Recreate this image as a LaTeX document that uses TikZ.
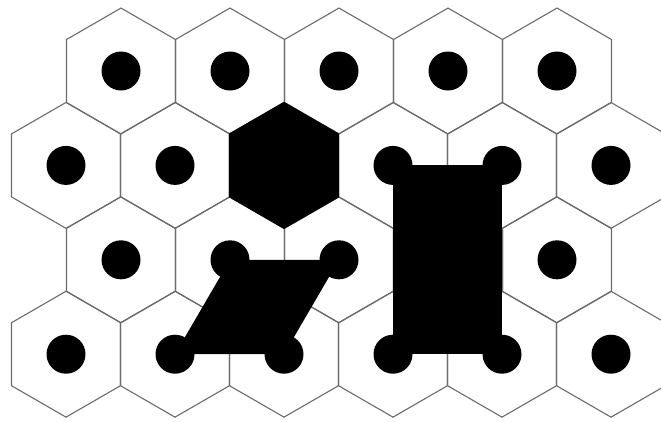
\documentclass[tikz,border=0pt]{standalone}
\usetikzlibrary{shapes.geometric}
\begin{document}
\begin{tikzpicture}[x=1pt,y=-1pt,
  hexcell/.style={regular polygon, regular polygon sides=6, shape border rotate=30,
    minimum size=125.9pt, inner sep=0pt, outer sep=0pt, draw=black!58, line width=1.1pt},
  hubdot/.style={circle, fill=black, minimum size=39pt, inner sep=0pt, outer sep=0pt},
  darkfill/.style={fill=black}]
\clip (0,0) rectangle (661,421);
\useasboundingbox (0,0) rectangle (661,421);
% hexagonal cells
\foreach \k in {0,...,4} \node[hexcell] (h-0-\k) at ({121+109*\k},71) {};
\foreach \k in {0,...,5} \node[hexcell] (h-1-\k) at ({66+109*\k},165.4) {};
\foreach \k in {0,...,4} \node[hexcell] (h-2-\k) at ({121+109*\k},259.8) {};
\foreach \k in {0,...,5} \node[hexcell] (h-3-\k) at ({66+109*\k},354.2) {};
% dark hexagon
\node[hexcell, darkfill, draw=black] (darkhex) at (h-1-2) {};
% dots
\foreach \k in {0,...,4} \node[hubdot] (d-0-\k) at (h-0-\k) {};
\foreach \k in {0,1,3,4,5} \node[hubdot] (d-1-\k) at (h-1-\k) {};
\foreach \k in {0,...,4} \node[hubdot] (d-2-\k) at (h-2-\k) {};
\foreach \k in {0,...,5} \node[hubdot] (d-3-\k) at (h-3-\k) {};
% parallelogram
\fill[darkfill] (d-2-1.center) -- (d-2-2.center) -- (d-3-2.center) -- (d-3-1.center) -- cycle;
% rectangle
\fill[darkfill] (d-1-3.center) -- (d-1-4.center) -- (d-3-4.center) -- (d-3-3.center) -- cycle;
\end{tikzpicture}
\end{document}
